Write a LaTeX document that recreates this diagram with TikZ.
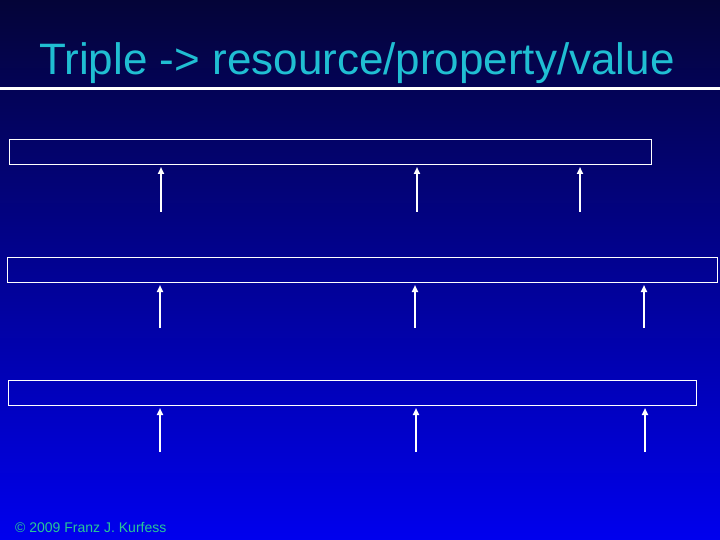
\documentclass[tikz,border=0pt]{standalone}
\usepackage{fontspec}
\setmainfont{Liberation Sans}
\usetikzlibrary{arrows.meta}
\definecolor{bgtop}{RGB}{4,4,56}
\definecolor{bgmid}{RGB}{0,0,172}
\definecolor{bgbot}{RGB}{0,0,238}
\definecolor{titlecol}{RGB}{32,190,210}
\definecolor{footcol}{RGB}{40,200,150}
\tikzset{
  box/.style={draw=white, line width=1pt, anchor=north west, inner sep=0pt, minimum height=25pt},
  arr/.style={draw=white, line width=2pt, -{Triangle[width=6pt,length=7pt]}, shorten >=2pt}
}
\begin{document}
\begin{tikzpicture}[x=1pt,y=-1pt]
\useasboundingbox (0,0) rectangle (720,540);
\shade[top color=bgtop, middle color=bgmid, bottom color=bgbot] (0,0) rectangle (720,540);
\node[anchor=base, text=titlecol, font=\fontsize{44}{50}\selectfont, inner sep=0pt] (title) at (357,75) {Triple -> resource/property/value};
\coordinate (rl) at (0,89);
\coordinate (rr) at (720,89);
\draw[white, line width=3pt] (rl) -- (rr);
\node[box, minimum width=642pt] (b1) at (9,139) {};
\node[box, minimum width=710pt] (b2) at (7,257) {};
\node[box, minimum width=688pt] (b3) at (8,380) {};
\coordinate (a1) at (161,212);
\coordinate (a2) at (417,212);
\coordinate (a3) at (580,212);
\coordinate (c1) at (160,328);
\coordinate (c2) at (415,328);
\coordinate (c3) at (644,328);
\coordinate (d1) at (160,452);
\coordinate (d2) at (416,452);
\coordinate (d3) at (645,452);
\foreach \p in {a1,a2,a3} \draw[arr] (\p) -- (\p |- b1.south);
\foreach \p in {c1,c2,c3} \draw[arr] (\p) -- (\p |- b2.south);
\foreach \p in {d1,d2,d3} \draw[arr] (\p) -- (\p |- b3.south);
\node[anchor=base west, text=footcol, font=\fontsize{14}{16}\selectfont, inner sep=0pt] (foot) at (15,532) {© 2009 Franz J. Kurfess};
\end{tikzpicture}
\end{document}
